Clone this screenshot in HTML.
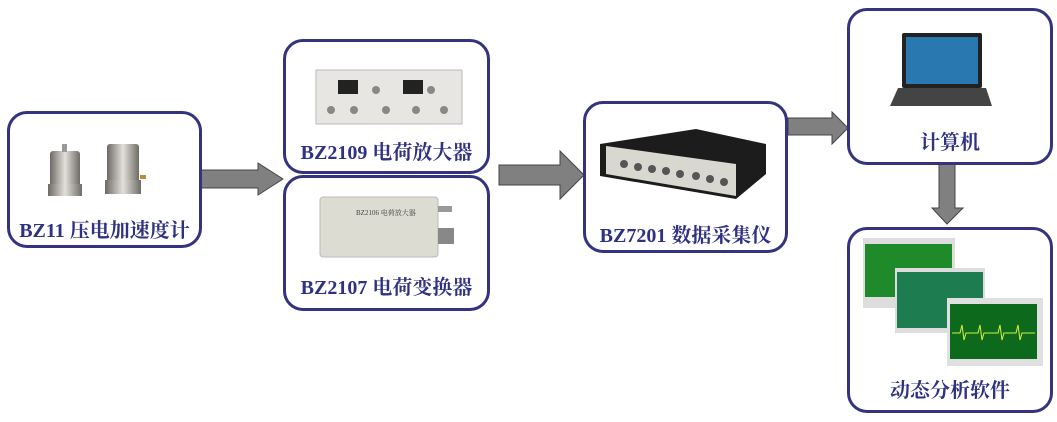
<!DOCTYPE html>
<html><head><meta charset="utf-8"><style>
body{margin:0;width:1057px;height:422px;background:#fff;position:relative;overflow:hidden;font-family:"Liberation Serif","Noto Serif CJK SC",serif}
.b{position:absolute;border:3px solid #33337f;border-radius:20px;box-sizing:border-box;background:#fff}
.t{position:absolute;left:0;right:0;text-align:center;font-weight:bold;font-size:20px;color:#2f3182;white-space:nowrap}
</style></head><body>
<svg width="1057" height="422" style="position:absolute;left:0;top:0">
<g fill="#808080" stroke="#444" stroke-width="1">
<polygon points="200,170 258,170 258,163 283,179 258,195 258,188 200,188"/>
<polygon points="499,165 560,165 560,151 584,175 560,199 560,185 499,185"/>
<polygon points="788,118 832,118 832,112 848,128 832,144 832,135 788,135"/>
<polygon points="939,164 955,164 955,208 963,208 947,224 932,208 939,208"/>
</g>
</svg>
<div class="b" style="left:7px;top:111px;width:195px;height:137px">
<svg width="189" height="131" style="position:absolute;left:0;top:0">
<defs><linearGradient id="m" x1="0" x2="1"><stop offset="0" stop-color="#6d6a63"/><stop offset=".5" stop-color="#e2e0da"/><stop offset="1" stop-color="#6f6c66"/></linearGradient></defs>
<rect x="40" y="37" width="30" height="40" rx="3" fill="url(#m)"/><rect x="38" y="70" width="34" height="12" fill="url(#m)"/><rect x="52" y="30" width="5" height="8" fill="#999"/>
<rect x="97" y="30" width="32" height="42" rx="3" fill="url(#m)"/><rect x="95" y="66" width="36" height="14" fill="url(#m)"/><rect x="130" y="61" width="6" height="4" fill="#b88a3a"/>
</svg>
<div class="t" style="top:100px">BZ11 压电加速度计</div></div>
<div class="b" style="left:283px;top:39px;width:207px;height:135px">
<svg width="201" height="129" style="position:absolute;left:0;top:0">
<rect x="30" y="28" width="146" height="54" fill="#e8e6e2" stroke="#bbb"/>
<rect x="52" y="38" width="20" height="14" fill="#222"/><rect x="117" y="38" width="20" height="14" fill="#222"/>
<g fill="#888"><circle cx="45" cy="68" r="4"/><circle cx="68" cy="68" r="4"/><circle cx="90" cy="48" r="4"/><circle cx="100" cy="68" r="4"/><circle cx="145" cy="48" r="4"/><circle cx="158" cy="68" r="4"/><circle cx="130" cy="68" r="4"/></g>
</svg>
<div class="t" style="top:94px">BZ2109 电荷放大器</div></div>
<div class="b" style="left:283px;top:175px;width:207px;height:136px">
<svg width="201" height="130" style="position:absolute;left:0;top:0">
<rect x="34" y="19" width="118" height="60" rx="3" fill="#dcdcd2" stroke="#bbb"/>
<text x="70" y="37" font-size="7" fill="#444">BZ2106 电荷放大器</text>
<rect x="152" y="28" width="14" height="6" fill="#999"/><rect x="152" y="50" width="16" height="16" fill="#888"/>
</svg>
<div class="t" style="top:93px">BZ2107 电荷变换器</div></div>
<div class="b" style="left:583px;top:101px;width:205px;height:152px">
<svg width="199" height="146" style="position:absolute;left:0;top:0">
<polygon points="14,40 110,25 180,40 180,70 150,95 14,72" fill="#1c1c1c"/>
<polygon points="20,42 150,60 150,92 20,70" fill="#d8d8d0"/>
<g fill="#555"><circle cx="38" cy="60" r="4"/><circle cx="52" cy="63" r="4"/><circle cx="66" cy="65" r="4"/><circle cx="80" cy="67" r="4"/><circle cx="94" cy="70" r="4"/><circle cx="110" cy="72" r="4"/><circle cx="124" cy="75" r="4"/><circle cx="138" cy="78" r="4"/></g>
</svg>
<div class="t" style="top:115px">BZ7201 数据采集仪</div></div>
<div class="b" style="left:847px;top:8px;width:206px;height:157px">
<svg width="200" height="151" style="position:absolute;left:0;top:0">
<rect x="52" y="22" width="80" height="55" rx="2" fill="#222"/><rect x="56" y="26" width="72" height="47" fill="#2a78b0"/>
<polygon points="48,77 136,77 142,95 40,95" fill="#444"/>
</svg>
<div class="t" style="top:115px">计算机</div></div>
<div class="b" style="left:847px;top:227px;width:206px;height:186px">
<svg width="200" height="180" style="position:absolute;left:0;top:0">
<rect x="13" y="8" width="92" height="70" fill="#ddd"/><rect x="15" y="14" width="87" height="53" fill="#1f8a2a"/>
<rect x="45" y="38" width="90" height="65" fill="#ddd"/><rect x="47" y="42" width="86" height="56" fill="#1e7d50"/>
<rect x="97" y="68" width="96" height="68" fill="#e0e0e0"/><rect x="100" y="74" width="87" height="55" fill="#0d6a1c"/>
<polyline points="102,103 110,103 112,95 114,110 116,103 128,103 130,95 132,110 134,103 148,103 150,95 152,110 154,103 166,103 168,95 170,110 172,103 185,103" fill="none" stroke="#d8ef40" stroke-width="1"/>
</svg>
<div class="t" style="top:144px">动态分析软件</div></div>
</body></html>
